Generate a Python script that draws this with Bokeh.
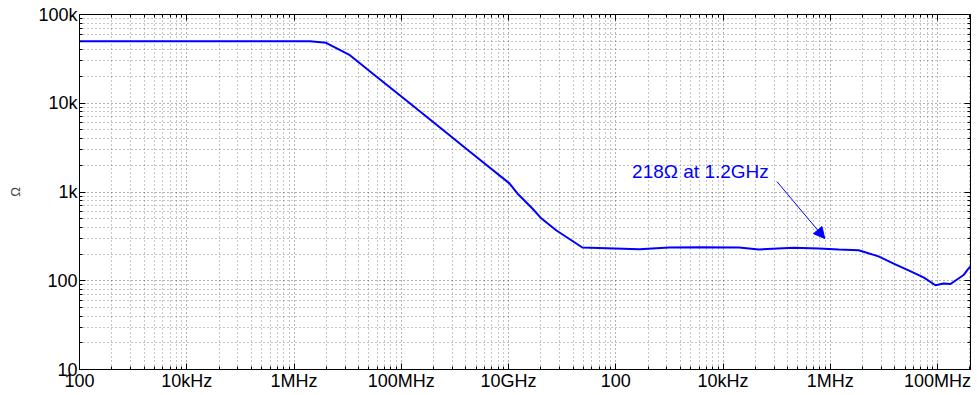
from bokeh.plotting import figure
from bokeh.models import (FixedTicker, LogAxis, CustomJSTickFormatter, Label, Arrow,
                          NormalHead, Range1d, ColumnDataSource)
from bokeh.embed import file_html
from bokeh.resources import INLINE

# ---- data ----
freq = [100, 457, 3890, 14100, 19900, 33200, 56600, 103000, 228000, 434000,
        1.02e6, 1.21e6, 1.67e6, 2.03e6, 2.80e6, 4.88e6, 1.66e7, 3.15e7, 5.98e7,
        1.41e8, 2.16e8, 4.57e8, 7.82e8, 1.20e9, 1.84e9, 2.82e9, 3.90e9, 5.37e9,
        7.41e9, 9.57e9, 1.14e10, 1.32e10, 1.57e10, 1.75e10, 1.94e10, 2.03e10]
impedance = [50000, 50000, 50000, 50000, 48000, 34800, 20700, 11600, 5360, 2860,
             1250, 962, 651, 502, 368, 237, 227, 237, 239,
             237, 225, 235, 231, 225, 221, 188, 156, 131,
             109, 89, 93, 92, 106, 116, 137, 145]

x_ticks = [1e2, 1e3, 1e4, 1e5, 1e6, 1e7, 1e8, 1e9, 1e10]
x_tick_labels = ["100", "10kHz", "1MHz", "100MHz", "10GHz", "100", "10kHz", "1MHz", "100MHz"]
y_ticks = [1e1, 1e2, 1e3, 1e4, 1e5]
y_tick_labels = ["10", "100", "1k", "10k", "100k"]

annotation_text = "218\u03a9 at 1.2GHz"

# ---- figure ----
FONT = "Liberation Sans"
x_min, x_max = 1e2, 2.03e10
y_min, y_max = 1e1, 1e5

p = figure(width=975, height=393, x_axis_type="log", y_axis_type="log",
           x_range=Range1d(x_min, x_max), y_range=Range1d(y_min, y_max),
           output_backend="svg", toolbar_location=None,
           min_border_left=79, min_border_right=5, min_border_top=14, min_border_bottom=22)
p.background_fill_color = "white"
p.border_fill_color = "white"
p.outline_line_color = "black"
p.outline_line_width = 1

def minors(lo_exp, hi_exp):
    out = []
    for e in range(lo_exp, hi_exp + 1):
        for k in range(2, 10):
            out.append(k * 10.0 ** e)
    return out

xt = FixedTicker(ticks=x_ticks, minor_ticks=minors(2, 10))
yt = FixedTicker(ticks=y_ticks, minor_ticks=minors(1, 4))

xfmt = CustomJSTickFormatter(args=dict(labels=x_tick_labels), code="""
    const i = Math.round(Math.log10(tick)) - 2;
    return (i >= 0 && i < labels.length) ? labels[i] : "";
""")
yfmt = CustomJSTickFormatter(args=dict(labels=y_tick_labels), code="""
    const i = Math.round(Math.log10(tick)) - 1;
    return (i >= 0 && i < labels.length) ? labels[i] : "";
""")
blankfmt = CustomJSTickFormatter(code='return "";')

def style_axis(ax):
    ax.axis_line_color = "black"
    ax.major_tick_in = 6
    ax.major_tick_out = 0
    ax.minor_tick_in = 3
    ax.minor_tick_out = 0
    ax.major_tick_line_color = "black"
    ax.minor_tick_line_color = "black"
    ax.major_label_text_font = FONT
    ax.major_label_text_font_size = "18px"
    ax.major_label_text_color = "black"
    ax.major_label_standoff = 2

xa = p.xaxis[0]
xa.ticker = xt
xa.formatter = xfmt
style_axis(xa)
xa.major_label_standoff = 1
ya = p.yaxis[0]
ya.ticker = yt
ya.formatter = yfmt
style_axis(ya)
ya.axis_label = "\u03a9"
ya.axis_label_text_font = FONT
ya.axis_label_text_font_style = "normal"
ya.axis_label_text_font_size = "13px"
ya.axis_label_standoff = 12

top = LogAxis(ticker=xt, formatter=blankfmt)
style_axis(top)
top.major_label_standoff = 0
p.add_layout(top, "above")
right = LogAxis(ticker=yt, formatter=blankfmt)
style_axis(right)
right.major_label_standoff = 0
p.add_layout(right, "right")

for g, t in ((p.xgrid[0], xt), (p.ygrid[0], yt)):
    g.ticker = t
    g.grid_line_color = "#000000"
    g.grid_line_dash = "1 3"
    g.grid_line_alpha = 0.6
    g.minor_grid_line_color = "#000000"
    g.minor_grid_line_dash = "1 3"
    g.minor_grid_line_alpha = 0.45

src = ColumnDataSource(dict(f=freq, z=impedance))
p.line("f", "z", source=src, line_color="#0000FF", line_width=2)

p.add_layout(Label(x=1.42e7, y=1702, text=annotation_text, text_color="#0000FF",
                   text_font=FONT, text_font_size="19px", text_baseline="middle"))
p.add_layout(Arrow(x_start=3.18e8, y_start=1312, x_end=8.89e8, y_end=299,
                   line_color="#0000FF", line_width=1,
                   end=NormalHead(size=11, fill_color="#0000FF", line_color="#0000FF")))

open("out.html", "w").write(file_html(p, INLINE))
